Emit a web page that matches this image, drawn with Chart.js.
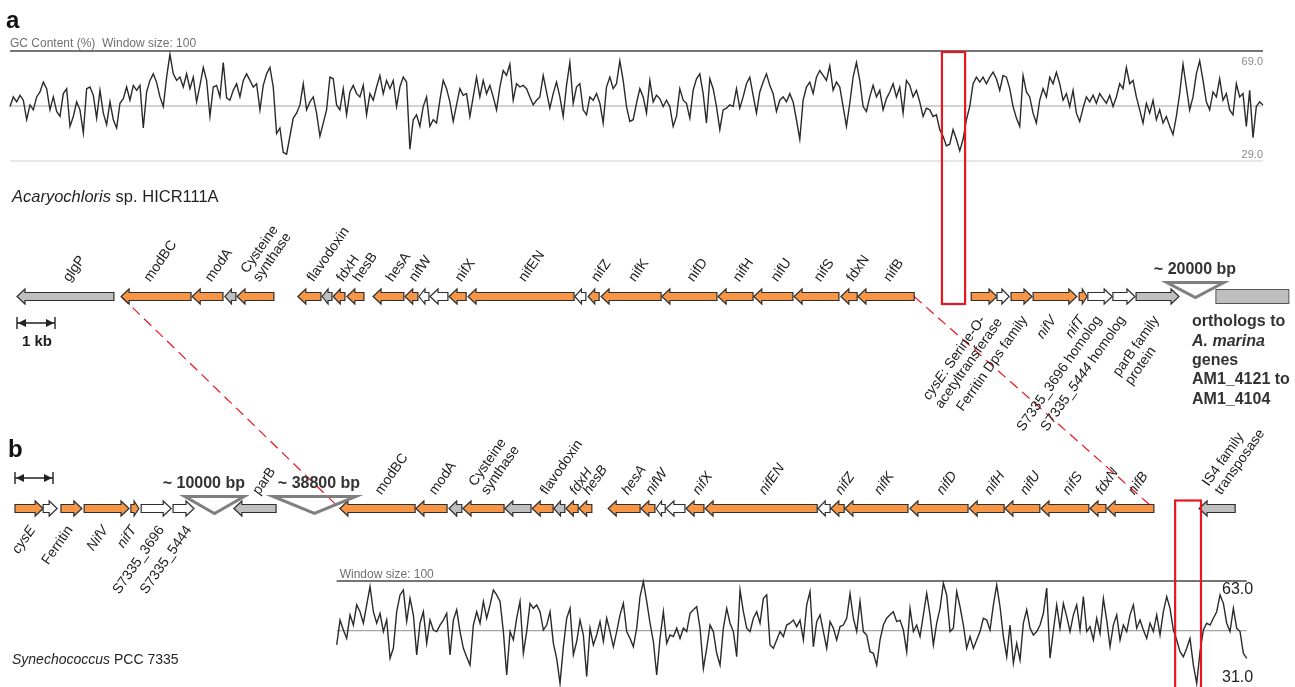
<!DOCTYPE html>
<html>
<head>
<meta charset="utf-8">
<title>nif cluster comparison</title>
<script src="https://cdn.jsdelivr.net/npm/chart.js@4.4.1/dist/chart.umd.min.js"></script>
<style>
  html, body { margin: 0; padding: 0; background: #fff; }
  #wrap { width: 1295px; height: 687px; }
</style>
</head>
<body>
<div id="wrap"><canvas id="fig" width="1295" height="687"></canvas></div>
<script>
// GC content (%) along the two contigs, one value per plotted window step
const gcA = [
  48.8, 52.3, 50.5, 52.9, 51.1, 44.0, 49.4, 47.6, 52.3, 54.1,
  57.7, 55.3, 47.6, 52.3, 47.0, 45.2, 53.5, 55.3, 41.6, 45.2,
  50.5, 47.6, 39.2, 55.3, 55.9, 52.9, 44.6, 54.7, 46.4, 42.2,
  50.5, 44.0, 41.0, 50.0, 51.7, 55.9, 51.1, 56.5, 54.7, 56.5,
  41.0, 54.1, 58.3, 60.7, 57.5, 52.3, 48.8, 59.5, 67.8, 60.7,
  58.3, 59.5, 55.9, 60.7, 55.3, 59.5, 50.5, 56.5, 63.0, 58.3,
  45.2, 55.9, 56.5, 52.3, 64.8, 52.0, 51.1, 54.7, 57.1, 52.3,
  58.3, 60.7, 58.3, 55.9, 57.1, 47.6, 56.5, 60.7, 63.0, 55.9,
  39.0, 41.0, 32.1, 31.5, 38.0, 44.6, 46.4, 49.4, 57.1, 47.6,
  50.5, 52.3, 46.4, 38.0, 42.8, 47.6, 59.5, 58.9, 49.4, 47.6,
  55.3, 45.8, 54.1, 56.5, 53.5, 52.3, 56.5, 45.8, 53.5, 51.1,
  55.9, 60.1, 53.5, 58.3, 55.3, 58.3, 48.8, 55.9, 59.5, 57.7,
  33.3, 44.0, 45.8,
  41.6, 48.8, 52.3, 41.6, 44.0, 42.8, 51.1, 58.3, 55.3, 50.5,
  43.4, 49.4, 55.3, 52.9, 53.5, 45.2, 52.3, 59.5, 52.3, 58.3,
  53.5, 56.5, 52.3, 47.6, 55.9, 61.9, 60.1, 64.2, 51.1, 57.1,
  55.9, 56.5, 55.3, 52.3, 49.4, 51.1, 52.3, 60.1, 54.1, 48.2,
  53.5, 57.7, 52.3, 45.2, 56.5, 64.8, 50.0, 55.9, 57.1, 47.6,
  45.8, 52.3, 51.1, 53.5, 50.0, 42.8, 55.9, 59.5, 55.3, 57.1,
  65.4, 58.3, 48.8, 43.4, 44.0, 50.0, 55.3, 52.3, 46.4, 58.3,
  50.5, 52.9, 51.7, 48.8, 51.1, 48.8, 41.6, 45.2, 55.3, 51.1,
  50.0, 44.6, 54.7, 58.9, 60.7, 53.5, 42.8, 58.9, 55.3, 48.8,
  40.4, 47.6, 48.2, 49.4, 48.8, 55.3, 48.2, 52.3, 57.1, 59.5,
  52.9, 46.4, 54.1, 57.7, 60.7, 56.5, 53.5, 47.0, 51.1, 52.3,
  50.5, 53.5, 50.5, 44.0, 36.9, 51.1, 55.9, 57.7, 53.5, 59.5,
  61.9, 60.1, 58.3, 63.6, 54.7, 57.7,
  55.9, 48.8, 41.6, 50.0, 59.5, 64.8, 58.3, 48.8, 47.0, 52.3,
  56.5, 52.3, 54.7, 47.6, 51.7, 54.1, 57.1, 52.3, 55.9, 46.4,
  58.3, 56.5, 52.3, 54.7, 50.5, 45.2, 48.2, 47.6, 45.2, 45.8,
  40.4, 38.0, 34.5, 35.1, 40.4, 36.9, 32.7, 36.9, 44.0, 48.8,
  57.1, 59.5, 57.7, 59.5, 57.1, 59.5, 61.3, 58.9, 54.7, 60.1,
  59.5, 55.3, 48.8, 44.6, 41.6, 60.1, 54.1, 52.3, 46.4, 42.8,
  51.1, 55.3, 52.3, 59.5, 57.1, 61.3, 57.1, 51.1, 53.5, 48.8,
  54.7, 46.4, 43.4, 48.2, 52.3, 50.5, 52.9, 50.0, 53.5, 51.7,
  50.0, 52.9, 48.8, 52.3, 57.1, 55.3, 63.0, 57.1, 58.3, 52.3,
  47.6, 42.8, 50.0, 46.4, 51.1, 44.0, 47.6, 42.8, 45.2, 41.6,
  38.6, 45.2, 53.5, 64.2, 55.9, 47.6, 52.3, 60.7, 65.4, 58.3,
  50.5, 47.6, 54.1, 52.3, 58.9, 51.1, 53.5, 47.6, 45.8, 57.1,
  52.3, 53.5, 41.6, 54.7, 37.5, 48.8, 50.5, 49.4
];

const gcB = [
  42.4, 50.4, 47.2, 44.5, 52.1, 48.8, 55.3, 53.1, 49.4, 55.3,
  61.2, 53.1, 49.4, 52.6, 46.7, 50.5, 38.1, 41.3, 53.1, 58.5,
  60.1, 50.0, 57.4, 52.1, 39.2, 49.4, 53.1, 42.9, 50.4, 47.2,
  46.7, 48.8, 50.4, 52.6, 39.2, 50.4, 53.7, 46.7, 41.3, 38.5,
  35.9, 48.8, 53.1, 49.4, 56.4, 51.0, 55.3, 60.1, 58.5, 56.4,
  46.7, 32.7, 46.7, 44.0, 51.0, 56.4, 39.7, 46.7, 55.8, 54.2,
  55.3, 53.1, 47.2, 48.8, 53.1, 42.9, 38.0, 30.0, 41.8, 51.0,
  54.2, 39.2, 43.5, 50.4, 45.6, 32.2, 47.8, 42.4, 45.6, 49.9,
  43.5, 51.0, 46.7, 41.8, 46.7, 52.1, 55.8, 46.7, 44.5, 41.8,
  47.8, 58.0, 62.8, 56.4, 49.4, 43.5, 32.7, 44.5, 53.1, 42.9,
  45.6, 45.1, 47.8, 44.5, 47.8, 46.7, 52.6, 53.7, 54.7, 47.8,
  34.8, 41.3, 48.8, 46.7, 39.7, 35.9, 47.8, 54.2, 49.4, 46.7,
  38.6, 60.1, 53.1, 47.8, 46.7, 51.0, 53.1, 49.4, 57.4, 58.5,
  42.4, 41.3, 44.0, 46.7, 45.1, 48.8,
  49.4, 50.4, 48.3, 50.4, 44.0, 55.3, 59.6, 41.8, 49.9, 52.1,
  46.7, 41.3, 49.9, 47.8, 44.0, 48.3, 48.8, 51.0, 59.0, 51.0,
  46.7, 56.4, 46.7, 45.6, 40.2, 39.7, 35.9, 44.0, 48.8, 51.0,
  52.1, 53.1, 49.9, 50.4, 47.2, 40.2, 54.2, 46.7, 48.8, 45.1,
  52.1, 59.0, 52.1, 42.4, 49.4, 54.2, 62.3, 58.5, 46.7, 47.8,
  59.6, 54.7, 48.8, 41.3, 45.1, 41.3, 44.0, 46.7, 51.0, 50.4,
  47.2, 55.3, 61.7, 54.7, 45.1, 38.6, 48.8, 36.5, 42.9, 37.5,
  49.4, 53.7, 47.8, 45.6, 46.7, 48.8, 52.6, 60.7, 38.1, 47.0,
  55.3, 47.8, 55.8, 51.5, 46.7, 52.1, 55.3, 47.2, 58.0, 46.7,
  48.3, 44.0, 51.0, 46.1, 57.4, 50.4, 41.8, 48.8, 52.1, 44.0,
  48.8, 46.7, 52.1, 55.3, 47.8, 50.4, 47.2, 44.5, 49.4, 46.7,
  52.1, 45.6, 53.1, 58.0, 54.2, 47.2, 44.0, 40.2, 38.6, 41.3,
  44.5, 35.9, 30.0, 40.2, 47.2, 49.4, 48.8, 51.0, 53.1, 58.5,
  55.8, 49.4, 46.7, 54.2, 47.8, 46.7, 39.7, 38.1
];

// axis values printed on the GC plots: [max, mean, min]
const gcTicksA = [69, 49, 29];
const gcTicksB = [63, 47, 31];

// genes: [label, start kb, end kb, strand, kind, optional label position kb]
// '*' marks italic, '\n' breaks a label
const genesA = [
  ['glgP', 0.00, 2.55, -1, 'grey'],
  ['modBC', 2.74, 4.58, -1, 'orange', 3.40],
  ['modA', 4.61, 5.42, -1, 'orange'],
  ['', 5.47, 5.76, -1, 'grey'],
  ['Cysteine\nsynthase', 5.79, 6.76, -1, 'orange'],
  ['flavodoxin', 7.39, 8.00, -1, 'orange'],
  ['', 8.03, 8.29, -1, 'grey'],
  ['fdxH', 8.32, 8.63, -1, 'orange'],
  ['hesB', 8.68, 9.13, -1, 'orange'],
  ['hesA', 9.37, 10.18, -1, 'orange'],
  ['nifW', 10.21, 10.55, -1, 'orange'],
  ['', 10.58, 10.84, -1, 'white'],
  ['', 10.87, 11.34, -1, 'white'],
  ['nifX', 11.37, 11.82, -1, 'orange'],
  ['nifEN', 11.87, 14.66, -1, 'orange'],
  ['', 14.68, 14.97, -1, 'white'],
  ['nifZ', 15.03, 15.32, -1, 'orange'],
  ['nifK', 15.37, 16.95, -1, 'orange'],
  ['nifD', 16.97, 18.42, -1, 'orange'],
  ['nifH', 18.45, 19.37, -1, 'orange'],
  ['nifU', 19.39, 20.42, -1, 'orange'],
  ['nifS', 20.45, 21.63, -1, 'orange'],
  ['fdxN', 21.68, 22.11, -1, 'orange'],
  ['nifB', 22.13, 23.61, -1, 'orange'],
  ['*cysE*: Serine-O-\nacetyltransferase', 25.11, 25.79, 1, 'orange'],
  ['', 25.79, 26.11, 1, 'white'],
  ['Ferritin Dps family', 26.16, 26.71, 1, 'orange', 26.55],
  ['*nifV*', 26.74, 27.89, 1, 'orange'],
  ['*nifT*', 27.95, 28.16, 1, 'orange'],
  ['S7335_3696 homolog', 28.18, 28.82, 1, 'white'],
  ['S7335_*5444* homolog', 28.84, 29.42, 1, 'white'],
  ['parB family\nprotein', 29.45, 30.58, 1, 'grey']
];

const genesB = [
  ['*cysE*', 0.00, 0.74, 1, 'orange', 0.50],
  ['', 0.74, 1.11, 1, 'white'],
  ['Ferritin', 1.21, 1.76, 1, 'orange'],
  ['*NifV*', 1.82, 3.00, 1, 'orange'],
  ['*nifT*', 3.05, 3.26, 1, 'orange'],
  ['S7335_3696', 3.32, 4.11, 1, 'white', 3.89],
  ['S7335_5444', 4.16, 4.71, 1, 'white', 4.61],
  ['parB', 5.76, 6.87, -1, 'grey'],
  ['modBC', 8.55, 10.53, -1, 'orange'],
  ['modA', 10.55, 11.37, -1, 'orange'],
  ['', 11.42, 11.76, -1, 'grey'],
  ['Cysteine\nsynthase', 11.79, 12.87, -1, 'orange'],
  ['', 12.89, 13.58, -1, 'grey'],
  ['flavodoxin', 13.61, 14.16, -1, 'orange'],
  ['', 14.18, 14.47, -1, 'grey'],
  ['*fdxH*', 14.50, 14.82, -1, 'orange'],
  ['*hesB*', 14.84, 15.18, -1, 'orange'],
  ['*hesA*', 15.61, 16.45, -1, 'orange'],
  ['*nifW*', 16.47, 16.84, -1, 'orange'],
  ['', 16.87, 17.11, -1, 'white'],
  ['', 17.13, 17.63, -1, 'white'],
  ['*nifX*', 17.66, 18.13, -1, 'orange'],
  ['*nifEN*', 18.16, 21.11, -1, 'orange'],
  ['', 21.13, 21.45, -1, 'white'],
  ['*nifZ*', 21.47, 21.82, -1, 'orange'],
  ['*nifK*', 21.84, 23.50, -1, 'orange'],
  ['*nifD*', 23.55, 25.08, -1, 'orange'],
  ['*nifH*', 25.11, 26.03, -1, 'orange'],
  ['*nifU*', 26.05, 26.97, -1, 'orange'],
  ['*nifS*', 27.00, 28.26, -1, 'orange'],
  ['*fdxN*', 28.29, 28.71, -1, 'orange'],
  ['*nifB*', 28.74, 29.97, -1, 'orange'],
  ['IS4 family\ntransposase', 31.16, 32.11, -1, 'grey']
];

// collapsed stretches: [start kb, end kb, text, text position kb]
const gapsA = [[30.26, 31.76, '~ 20000 bp', 31.0]];
const gapsB = [[4.47, 6.03, '~ 10000 bp', 4.97], [6.79, 8.97, '~ 38800 bp', 8.0]];

// block of A. marina orthologs after the gap (kb)
const blockA = [31.55, 33.47];
const blockText = ['orthologs to', '*A. marina*', 'genes', 'AM1_4121 to', 'AM1_4104'];

// low-GC windows boxed in red (kb on each map)
const lowGcA = [24.34, 24.95];
const lowGcB = [30.53, 31.21];

// genes joined across the two maps: [gene, end]
const links = [['modBC', 'start'], ['nifB', 'end']];

// ---- layout -------------------------------------------------------------
const W = 1295, H = 687;
const PX_PER_KB = 38;
const FONT = '"Liberation Sans", Arial, Helvetica, sans-serif';
const FILL = { orange: '#F79646', grey: '#BFBFBF', white: '#FFFFFF' };
const RED = '#E8161E';
const ANGLE = 55 * Math.PI / 180;
const LBL = 14, LH = 15;

const panelA = { row: 296.5, origin: 17, up: 14, down: 17, gapTop: -14, gapApex: 1, gapText: -27 };
const panelB = { row: 508.5, origin: 15, up: 13, down: 15, gapTop: -12, gapApex: 5, gapText: -25 };

const traceA = { left: 10, right: 1263, top: 51, bottom: 161 };
const traceB = { left: 336.7, right: 1246.7, top: 581, bottom: 680.3 };

function xRange(n, box) {
  const step = (box.right - box.left) / (n - 1);
  const min = -box.left / step;
  return { min, max: min + W / step };
}
function yRange(ticks, box) {
  const ppu = (box.bottom - box.top) / (ticks[0] - ticks[2]);
  const max = ticks[0] + box.top / ppu;
  return { min: max - H / ppu, max };
}
function kbRange(origin) {
  const min = -origin / PX_PER_KB;
  return { min, max: min + W / PX_PER_KB };
}

// ---- drawing helpers ----------------------------------------------------
function parts(str) {
  return str.split('*').map((s, i) => ({ s, it: i % 2 === 1 })).filter(p => p.s);
}
function font(it, size, bold) {
  return (it ? 'italic ' : '') + (bold ? 'bold ' : '') + size + 'px ' + FONT;
}
function richWidth(ctx, str, size, bold) {
  let w = 0;
  for (const p of parts(str)) { ctx.font = font(p.it, size, bold); w += ctx.measureText(p.s).width; }
  return w;
}
function richText(ctx, str, x, y, size, bold) {
  let cx = x;
  ctx.textAlign = 'left';
  for (const p of parts(str)) {
    ctx.font = font(p.it, size, bold);
    ctx.fillText(p.s, cx, y);
    cx += ctx.measureText(p.s).width;
  }
}

function arrow(ctx, x0, x1, y, strand, fill) {
  const len = x1 - x0, hl = Math.min(8, len * 0.6), bh = 4, hh = 7.5;
  ctx.beginPath();
  if (strand > 0) {
    ctx.moveTo(x0, y - bh); ctx.lineTo(x1 - hl, y - bh); ctx.lineTo(x1 - hl, y - hh);
    ctx.lineTo(x1, y); ctx.lineTo(x1 - hl, y + hh); ctx.lineTo(x1 - hl, y + bh); ctx.lineTo(x0, y + bh);
  } else {
    ctx.moveTo(x1, y - bh); ctx.lineTo(x0 + hl, y - bh); ctx.lineTo(x0 + hl, y - hh);
    ctx.lineTo(x0, y); ctx.lineTo(x0 + hl, y + hh); ctx.lineTo(x0 + hl, y + bh); ctx.lineTo(x1, y + bh);
  }
  ctx.closePath();
  ctx.fillStyle = fill;
  ctx.fill();
  ctx.lineWidth = 1.2;
  ctx.strokeStyle = '#2E2E2E';
  ctx.stroke();
}

function geneLabel(ctx, text, x, y, above) {
  const lines = text.split('\n');
  ctx.save();
  ctx.translate(x, y);
  ctx.rotate(-ANGLE);
  ctx.fillStyle = '#1E1B1C';
  if (above) {
    ctx.textBaseline = 'alphabetic';
    lines.forEach((ln, i) => richText(ctx, ln, 0, -(lines.length - 1 - i) * LH, LBL));
  } else {
    ctx.textBaseline = 'top';
    const w0 = richWidth(ctx, lines[0], LBL);
    lines.forEach((ln, i) => richText(ctx, ln, -w0, i * LH, LBL));
  }
  ctx.restore();
}

function scaleBar(ctx, x0, x1, y) {
  ctx.strokeStyle = '#222';
  ctx.fillStyle = '#222';
  ctx.lineWidth = 1.4;
  ctx.beginPath();
  ctx.moveTo(x0, y); ctx.lineTo(x1, y);
  ctx.moveTo(x0, y - 6); ctx.lineTo(x0, y + 6);
  ctx.moveTo(x1, y - 6); ctx.lineTo(x1, y + 6);
  ctx.stroke();
  ctx.beginPath();
  ctx.moveTo(x0 + 1, y); ctx.lineTo(x0 + 9, y - 4); ctx.lineTo(x0 + 9, y + 4); ctx.closePath();
  ctx.moveTo(x1 - 1, y); ctx.lineTo(x1 - 9, y - 4); ctx.lineTo(x1 - 9, y + 4); ctx.closePath();
  ctx.fill();
}

function drawMap(ctx, xs, genes, gaps, p) {
  const y = p.row;
  for (const g of genes) {
    arrow(ctx, xs.getPixelForValue(g[1]), xs.getPixelForValue(g[2]), y, g[3], FILL[g[4]]);
  }
  for (const g of genes) {
    if (!g[0]) continue;
    const at = g[5] !== undefined ? g[5] : (g[1] + g[2]) / 2;
    const x = xs.getPixelForValue(at);
    if (g[3] < 0) geneLabel(ctx, g[0], x + 4, y - p.up, true);
    else geneLabel(ctx, g[0], x - 7, y + p.down, false);
  }
  for (const g of gaps) {
    const x0 = xs.getPixelForValue(g[0]), x1 = xs.getPixelForValue(g[1]);
    ctx.beginPath();
    ctx.moveTo(x0, y + p.gapTop); ctx.lineTo(x1, y + p.gapTop);
    ctx.lineTo((x0 + x1) / 2, y + p.gapApex); ctx.closePath();
    ctx.lineWidth = 3;
    ctx.strokeStyle = '#7F7F7F';
    ctx.stroke();
    ctx.font = 'bold 16px ' + FONT;
    ctx.fillStyle = '#333';
    ctx.textAlign = 'center';
    ctx.textBaseline = 'middle';
    ctx.fillText(g[2], xs.getPixelForValue(g[3]), y + p.gapText);
  }
}

function gcFrame(ctx, xs, ys, n, ticks, withBottom) {
  const x0 = xs.getPixelForValue(0), x1 = xs.getPixelForValue(n - 1);
  const line = (v, c, w) => {
    const y = ys.getPixelForValue(v);
    ctx.beginPath(); ctx.moveTo(x0, y); ctx.lineTo(x1, y);
    ctx.strokeStyle = c; ctx.lineWidth = w; ctx.stroke();
  };
  line(ticks[0], '#747474', 2);
  line(ticks[1], '#A5A5A5', 1.2);
  if (withBottom) line(ticks[2], '#CFCFCF', 1.2);
}

const figure = {
  id: 'figure',
  beforeDatasetsDraw(chart) {
    const ctx = chart.ctx, s = chart.scales;
    ctx.save();
    gcFrame(ctx, s.xa, s.ya, gcA.length, gcTicksA, true);
    gcFrame(ctx, s.xb, s.yb, gcB.length, gcTicksB, false);
    ctx.restore();
  },
  afterDatasetsDraw(chart) {
    const ctx = chart.ctx, s = chart.scales;
    const xa = s.xga, xb = s.xgb;
    ctx.save();

    // panel letters
    ctx.fillStyle = '#111';
    ctx.textAlign = 'left';
    ctx.textBaseline = 'alphabetic';
    ctx.font = 'bold 24px ' + FONT;
    ctx.fillText('a', 6, 28);
    ctx.fillText('b', 8, 457);

    // GC plot captions and values
    ctx.font = '12px ' + FONT;
    ctx.fillStyle = '#707070';
    ctx.fillText('GC Content (%)  Window size: 100', s.xa.getPixelForValue(0), s.ya.getPixelForValue(gcTicksA[0]) - 4);
    ctx.fillText('Window size: 100', s.xb.getPixelForValue(0) + 3, s.yb.getPixelForValue(gcTicksB[0]) - 3);
    ctx.font = '11px ' + FONT;
    ctx.fillStyle = '#8A8A8A';
    ctx.textAlign = 'right';
    ctx.textBaseline = 'middle';
    const ra = s.xa.getPixelForValue(gcA.length - 1);
    ctx.fillText(gcTicksA[0].toFixed(1), ra, s.ya.getPixelForValue(gcTicksA[0]) + 11);
    ctx.fillText(gcTicksA[2].toFixed(1), ra, s.ya.getPixelForValue(gcTicksA[2]) - 6);
    ctx.font = '16px ' + FONT;
    ctx.fillStyle = '#222';
    ctx.textAlign = 'left';
    ctx.fillText(gcTicksB[0].toFixed(1), 1222, s.yb.getPixelForValue(gcTicksB[0]) + 9);
    ctx.fillText(gcTicksB[2].toFixed(1), 1222, s.yb.getPixelForValue(gcTicksB[2]) - 3);

    // species names
    ctx.fillStyle = '#231F20';
    ctx.textBaseline = 'middle';
    richText(ctx, '*Acaryochloris* sp. HICR111A', 12, 197, 16.5);
    richText(ctx, '*Synechococcus* PCC 7335', 12, 660, 14);

    // red dashed links between the maps
    ctx.setLineDash([10, 6]);
    ctx.strokeStyle = RED;
    ctx.lineWidth = 1.2;
    for (const [name, end] of links) {
      const ga = genesA.find(g => g[0] === name), gb = genesB.find(g => g[0].replace(/\*/g, '') === name);
      const k = end === 'start' ? 1 : 2;
      ctx.beginPath();
      ctx.moveTo(xa.getPixelForValue(ga[k]), panelA.row);
      ctx.lineTo(xb.getPixelForValue(gb[k]), panelB.row);
      ctx.stroke();
    }
    ctx.setLineDash([]);

    // gene maps
    drawMap(ctx, xa, genesA, gapsA, panelA);
    drawMap(ctx, xb, genesB, gapsB, panelB);

    // ortholog block after the gap
    const bx0 = xa.getPixelForValue(blockA[0]), bx1 = xa.getPixelForValue(blockA[1]);
    ctx.fillStyle = FILL.grey;
    ctx.fillRect(bx0, panelA.row - 7, bx1 - bx0, 14);
    ctx.strokeStyle = '#555';
    ctx.lineWidth = 1;
    ctx.strokeRect(bx0, panelA.row - 7, bx1 - bx0, 14);
    ctx.fillStyle = '#333';
    ctx.textBaseline = 'middle';
    blockText.forEach((t, i) => richText(ctx, t, 1192, panelA.row + 25.5 + i * 19.3, 16, true));

    // scale bars (1 kb)
    scaleBar(ctx, xa.getPixelForValue(0), xa.getPixelForValue(1), panelA.row + 26.5);
    scaleBar(ctx, xb.getPixelForValue(0), xb.getPixelForValue(1), panelB.row - 30.5);
    ctx.fillStyle = '#222';
    ctx.font = 'bold 15px ' + FONT;
    ctx.textAlign = 'center';
    ctx.textBaseline = 'middle';
    ctx.fillText('1 kb', xa.getPixelForValue(0.5) + 1, panelA.row + 45.5);

    // low-GC boxes
    ctx.strokeStyle = RED;
    ctx.lineWidth = 2.2;
    const ax0 = xa.getPixelForValue(lowGcA[0]), ax1 = xa.getPixelForValue(lowGcA[1]);
    const atop = s.ya.getPixelForValue(gcTicksA[0]) + 1;
    ctx.strokeRect(ax0, atop, ax1 - ax0, panelA.row + 7.5 - atop);
    const bx2 = xb.getPixelForValue(lowGcB[0]), bx3 = xb.getPixelForValue(lowGcB[1]);
    ctx.strokeRect(bx2, panelB.row - 8, bx3 - bx2, H + 10 - panelB.row);

    ctx.restore();
  }
};

const rA = xRange(gcA.length, traceA), rB = xRange(gcB.length, traceB);
const yA = yRange(gcTicksA, traceA), yB = yRange(gcTicksB, traceB);
const kA = kbRange(panelA.origin), kB = kbRange(panelB.origin);

const hidden = (axis, r) => ({ type: 'linear', axis, display: false, bounds: 'data', min: r.min, max: r.max });

new Chart(document.getElementById('fig'), {
  type: 'line',
  data: {
    datasets: [
      {
        data: gcA.map((v, i) => ({ x: i, y: v })),
        xAxisID: 'xa', yAxisID: 'ya',
        borderColor: '#2A2A2A', borderWidth: 1.4,
        pointRadius: 0, tension: 0, fill: false
      },
      {
        data: gcB.map((v, i) => ({ x: i, y: v })),
        xAxisID: 'xb', yAxisID: 'yb',
        borderColor: '#2A2A2A', borderWidth: 1.4,
        pointRadius: 0, tension: 0, fill: false
      }
    ]
  },
  options: {
    responsive: false,
    animation: false,
    events: [],
    layout: { padding: 0 },
    plugins: { legend: { display: false }, tooltip: { enabled: false } },
    scales: {
      xa: hidden('x', rA),
      ya: hidden('y', yA),
      xb: hidden('x', rB),
      yb: hidden('y', yB),
      xga: hidden('x', kA),
      xgb: hidden('x', kB)
    }
  },
  plugins: [figure]
});
</script>
</body>
</html>
